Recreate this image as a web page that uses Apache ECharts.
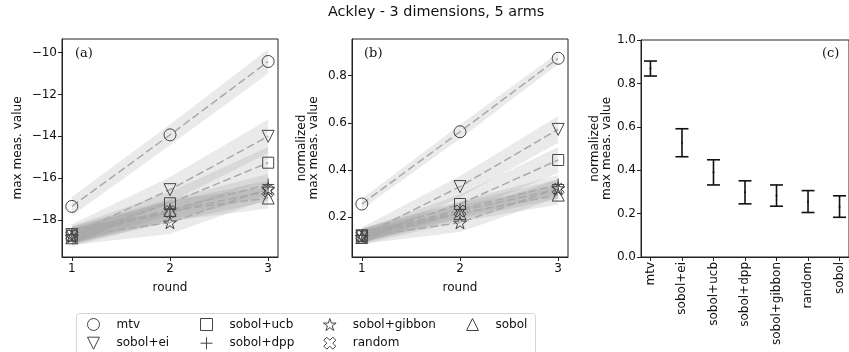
<!DOCTYPE html>
<html>
<head>
<meta charset="utf-8">
<script src="https://cdn.jsdelivr.net/npm/echarts@6/dist/echarts.min.js"></script>
<style>
  html, body { margin: 0; padding: 0; background: #fff; }
  #chart { width: 849px; height: 352px; }
</style>
</head>
<body>
<div id="chart"></div>
<script>
// methods, in legend / panel (c) order
const methods = ['mtv', 'sobol+ei', 'sobol+ucb', 'sobol+dpp', 'sobol+gibbon', 'random', 'sobol'];
const rounds = [1, 2, 3];

// (a) max measured value per round, and half width of the shaded band
const aMean = [
  [-17.35, -13.93, -10.42],
  [-18.70, -16.55, -14.00],
  [-18.75, -17.20, -15.26],
  [-18.70, -17.50, -16.30],
  [-18.80, -18.12, -16.50],
  [-18.75, -17.60, -16.62],
  [-18.85, -17.55, -16.95]
];
const aHalf = [
  [0.45, 0.50, 0.58],
  [0.50, 0.60, 0.80],
  [0.45, 0.55, 0.75],
  [0.40, 0.50, 0.50],
  [0.40, 0.55, 0.50],
  [0.40, 0.50, 0.50],
  [0.40, 0.50, 0.50]
];

// (b) normalized max measured value
const bMean = [
  [0.255, 0.562, 0.874],
  [0.120, 0.329, 0.572],
  [0.118, 0.255, 0.442],
  [0.122, 0.232, 0.338],
  [0.115, 0.176, 0.322],
  [0.120, 0.225, 0.318],
  [0.113, 0.215, 0.293]
];
const bHalf = [
  [0.022, 0.030, 0.025],
  [0.035, 0.045, 0.057],
  [0.030, 0.040, 0.055],
  [0.030, 0.035, 0.040],
  [0.030, 0.040, 0.040],
  [0.030, 0.035, 0.040],
  [0.030, 0.035, 0.040]
];

// (c) error bars
const cMean = [0.869, 0.526, 0.390, 0.298, 0.283, 0.255, 0.232];
const cLow  = [0.834, 0.462, 0.332, 0.245, 0.234, 0.205, 0.183];
const cHigh = [0.903, 0.591, 0.448, 0.351, 0.332, 0.306, 0.282];

const yTicksA = [-18, -16, -14, -12, -10];
const yTicksB = [0.2, 0.4, 0.6, 0.8];
const yTicksC = [0, 0.2, 0.4, 0.6, 0.8, 1.0];
const catTicks = [0, 1, 2, 3, 4, 5, 6];

const FONT = 'DejaVu Sans';
const TXT = '#111';
const EDGE = '#444';

// marker shapes (matplotlib o v s + * X ^)
function starPath() {
  let pts = [];
  for (let k = 0; k < 10; k++) {
    let r = k % 2 ? 0.382 : 1;
    let ang = Math.PI / 2 + k * Math.PI / 5;
    pts.push((r * Math.cos(ang)).toFixed(3) + ',' + (-r * Math.sin(ang)).toFixed(3));
  }
  return 'path://M' + pts.join(' L') + ' Z';
}
function xFilledPath() {
  const p = [[-1,-3],[1,-3],[1,-1],[3,-1],[3,1],[1,1],[1,3],[-1,3],[-1,1],[-3,1],[-3,-1],[-1,-1]];
  const c = Math.SQRT1_2;
  return 'path://M' + p.map(q => ((q[0] - q[1]) * c).toFixed(3) + ',' + ((q[0] + q[1]) * c).toFixed(3)).join(' L') + ' Z';
}
const symbols = [
  'circle',
  'path://M-1,-1 L1,-1 L0,1 Z',
  'path://M-1,-1 L1,-1 L1,1 L-1,1 Z',
  'path://M0,-1 L0,1 M-1,0 L1,0',
  starPath(),
  xFilledPath(),
  'path://M0,-1 L1,1 L-1,1 Z'
];
const symbolSizes = [12, 12, 11, 12, 13, 12, 12];

function bandSeries(gi, means, halfs) {
  const data = rounds.map((r, j) => [r, means[j] - halfs[j], means[j] + halfs[j]]);
  return {
    type: 'custom', xAxisIndex: gi, yAxisIndex: gi, silent: true, z: 1,
    data: data,
    renderItem: function (params, api) {
      if (params.dataIndex !== 0) return;
      const upper = data.map(d => api.coord([d[0], d[2]]));
      const lower = data.map(d => api.coord([d[0], d[1]])).reverse();
      return {
        type: 'polygon',
        shape: { points: upper.concat(lower) },
        style: { fill: 'rgba(128,128,128,0.17)' }
      };
    }
  };
}

function lineSeries(gi, means, i) {
  return {
    name: methods[i], type: 'line', xAxisIndex: gi, yAxisIndex: gi, z: 3,
    data: rounds.map((r, j) => [r, means[j]]),
    symbol: symbols[i], symbolSize: symbolSizes[i], symbolKeepAspect: true, showAllSymbol: true,
    lineStyle: { color: '#a9a9a9', width: 1.5, type: [8, 3.5] },
    itemStyle: { color: 'transparent', borderColor: EDGE, borderWidth: 1 },
    emphasis: { disabled: true }
  };
}

let series = [];
[aMean, bMean].forEach((means, gi) => {
  const halfs = gi === 0 ? aHalf : bHalf;
  methods.forEach((m, i) => series.push(bandSeries(gi, means[i], halfs[i])));
  methods.forEach((m, i) => series.push(lineSeries(gi, means[i], i)));
});

series.push({
  type: 'custom', xAxisIndex: 2, yAxisIndex: 2, z: 3, silent: true,
  data: methods.map((m, i) => [i, cLow[i], cHigh[i], cMean[i]]),
  renderItem: function (params, api) {
    const x = api.value(0);
    const lo = api.coord([x, api.value(1)]);
    const hi = api.coord([x, api.value(2)]);
    const mid = api.coord([x, api.value(3)]);
    const w = 6.5;
    const st = { stroke: '#111', lineWidth: 1.6 };
    return {
      type: 'group',
      children: [
        { type: 'line', shape: { x1: lo[0], y1: lo[1], x2: hi[0], y2: hi[1] }, style: st },
        { type: 'line', shape: { x1: lo[0] - w, y1: lo[1], x2: lo[0] + w, y2: lo[1] }, style: st },
        { type: 'line', shape: { x1: hi[0] - w, y1: hi[1], x2: hi[0] + w, y2: hi[1] }, style: st },
        { type: 'circle', shape: { cx: mid[0], cy: mid[1], r: 1 }, style: { fill: '#111' } }
      ]
    };
  }
});

const axisCommon = {
  axisLine: { show: true, onZero: false, lineStyle: { color: '#222', width: 1 } },
  axisTick: { show: true, length: 4, lineStyle: { color: '#222', width: 1 } },
  splitLine: { show: false },
  nameTextStyle: { fontFamily: FONT, fontSize: 12, color: TXT, lineHeight: 12 }
};
function labelStyle(extra) {
  return Object.assign({ fontFamily: FONT, fontSize: 12, color: TXT, margin: 5 }, extra || {});
}

const xAxes = [0, 1].map(g => Object.assign({}, axisCommon, {
  type: 'value', gridIndex: g, min: 0.9, max: 3.1,
  name: 'round', nameLocation: 'middle', nameGap: 25,
  axisTick: Object.assign({}, axisCommon.axisTick, { customValues: rounds }),
  axisLabel: labelStyle({ customValues: rounds, margin: 6 })
}));
xAxes.push(Object.assign({}, axisCommon, {
  type: 'value', gridIndex: 2, min: -0.3, max: 6.3,
  axisTick: Object.assign({}, axisCommon.axisTick, { customValues: catTicks }),
  axisLabel: labelStyle({ customValues: catTicks, rotate: 90, formatter: v => methods[v] })
}));

const yAxes = [
  Object.assign({}, axisCommon, {
    type: 'value', gridIndex: 0, min: -19.77, max: -9.345,
    name: 'max meas. value', nameLocation: 'middle', nameGap: 38,
    axisTick: Object.assign({}, axisCommon.axisTick, { customValues: yTicksA }),
    axisLabel: labelStyle({ customValues: yTicksA, formatter: v => String(v).replace('-', '\u2212') })
  }),
  Object.assign({}, axisCommon, {
    type: 'value', gridIndex: 1, min: 0.03, max: 0.956,
    name: 'normalized\nmax meas. value', nameLocation: 'middle', nameGap: 32,
    axisTick: Object.assign({}, axisCommon.axisTick, { customValues: yTicksB }),
    axisLabel: labelStyle({ customValues: yTicksB, formatter: v => v.toFixed(1) })
  }),
  Object.assign({}, axisCommon, {
    type: 'value', gridIndex: 2, min: 0, max: 1,
    name: 'normalized\nmax meas. value', nameLocation: 'middle', nameGap: 28,
    axisTick: Object.assign({}, axisCommon.axisTick, { customValues: yTicksC }),
    axisLabel: labelStyle({ customValues: yTicksC, formatter: v => v.toFixed(1) })
  })
];

const gridStyle = { show: true, borderColor: '#222', borderWidth: 1, backgroundColor: 'transparent', containLabel: false };
const panelFont = { fontFamily: 'DejaVu Serif', fontSize: 13, fontWeight: 'normal', color: TXT };

const legendCols = [[0, 1], [2, 3], [4, 5], [6]];
const legendTextX = [116, 229, 352, 495];

const option = {
  animation: false,
  backgroundColor: '#fff',
  title: [
    { text: 'Ackley - 3 dimensions, 5 arms', left: 328, top: 5, padding: 0,
      textStyle: { fontFamily: FONT, fontSize: 14.4, fontWeight: 'normal', color: TXT } },
    { text: '(a)', left: 75, top: 47, padding: 0, textStyle: panelFont },
    { text: '(b)', left: 364, top: 47, padding: 0, textStyle: panelFont },
    { text: '(c)', left: 822, top: 47, padding: 0, textStyle: panelFont }
  ],
  grid: [
    Object.assign({ left: 62, top: 39, width: 216, height: 218 }, gridStyle),
    Object.assign({ left: 352, top: 39, width: 216, height: 218 }, gridStyle),
    Object.assign({ left: 641, top: 40, width: 214, height: 217 }, gridStyle)
  ],
  xAxis: xAxes,
  yAxis: yAxes,
  legend: legendCols.map((col, k) => ({
    orient: 'vertical', left: legendTextX[k] - 29, top: 318, padding: 0,
    itemWidth: 36, itemHeight: 12, itemGap: 5.7, selectedMode: false,
    lineStyle: { opacity: 0 },
    data: col.map(i => ({
      name: methods[i], icon: symbols[i],
      itemStyle: { color: 'transparent', borderColor: EDGE, borderWidth: 1 }
    })),
    textStyle: { fontFamily: FONT, fontSize: 12, color: TXT }
  })),
  graphic: [
    { type: 'rect', left: 76, top: 313, z: -1,
      shape: { width: 459, height: 45, r: 3 },
      style: { fill: '#fff', stroke: '#d6d6d6', lineWidth: 1 } }
  ],
  series: series
};

const chart = echarts.init(document.getElementById('chart'), null, { renderer: 'canvas' });
chart.setOption(option);
</script>
</body>
</html>
